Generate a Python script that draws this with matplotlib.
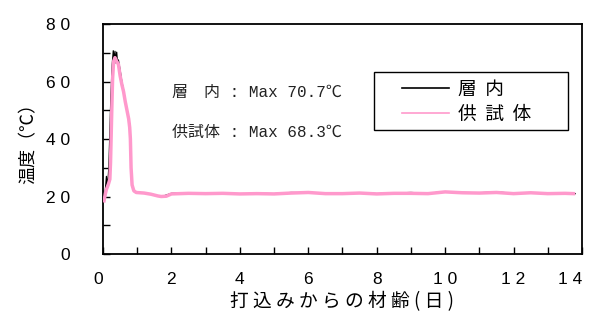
import matplotlib
matplotlib.use("Agg")
import matplotlib.pyplot as plt
from matplotlib.ticker import MultipleLocator
from matplotlib.patches import Rectangle

plt.rcParams['font.family'] = ['Noto Sans CJK JP', 'DejaVu Sans']

# 層内 (black, thin)
t_inner = [0.0, 0.05, 0.1, 0.13, 0.17, 0.2, 0.23, 0.27, 0.3, 0.33, 0.35, 0.37, 0.4, 0.42,
           0.45, 0.5, 0.55, 0.6, 0.65, 0.7, 0.75, 0.78, 0.8, 0.83, 0.87, 0.92, 1.0,
           1.2, 1.4, 1.6, 1.8, 2.0, 2.5, 3.0, 3.5, 4.0, 4.5, 5.0, 5.5, 6.0, 6.5,
           7.0, 7.5, 8.0, 8.5, 9.0, 9.5, 10.0, 10.5, 11.0, 11.5, 12.0, 12.5, 13.0, 13.5, 13.8]
T_inner = [18.5, 19.5, 27.0, 23.0, 30.0, 42.0, 55.0, 66.0, 70.7, 67.0, 70.5, 66.5, 70.2, 67.0,
           67.5, 64.0, 60.0, 57.0, 53.0, 50.0, 47.0, 45.0, 38.0, 28.0, 22.5, 21.6, 21.5,
           21.2, 20.8, 20.2, 20.3, 21.1, 21.3, 21.0, 21.2, 20.9, 21.1, 21.0, 21.4, 21.3, 21.0,
           20.9, 21.3, 21.0, 21.2, 21.4, 21.1, 21.7, 21.4, 21.3, 21.6, 21.1, 21.3, 21.0, 21.2, 21.0]

# 供試体 (pink, thick)
t_spec = [0.03, 0.07, 0.1, 0.15, 0.2, 0.22, 0.24, 0.26, 0.28, 0.31, 0.35, 0.4, 0.45,
          0.5, 0.55, 0.6, 0.65, 0.7, 0.75, 0.78, 0.8, 0.82, 0.85, 0.9, 0.97,
          1.2, 1.4, 1.6, 1.7, 1.85, 2.0, 2.5, 3.0, 3.5, 4.0, 4.5, 5.0, 5.5, 6.0, 6.5,
          7.0, 7.5, 8.0, 8.5, 9.0, 9.5, 10.0, 10.5, 11.0, 11.5, 12.0, 12.5, 13.0, 13.5, 13.75]
T_spec = [18.5, 21.0, 22.5, 24.0, 26.0, 32.0, 42.0, 52.0, 61.0, 67.0, 68.3, 67.0, 66.0,
          62.0, 59.0, 56.5, 53.0, 50.0, 47.0, 44.0, 40.0, 30.0, 24.0, 22.0, 21.4,
          21.2, 20.8, 20.2, 20.0, 20.1, 20.9, 21.1, 21.0, 21.1, 20.9, 21.0, 20.9, 21.2, 21.4, 21.0,
          21.0, 21.2, 20.9, 21.1, 21.1, 21.0, 21.6, 21.3, 21.2, 21.4, 21.0, 21.3, 21.0, 21.1, 21.0]

x_ticks = [0, 2, 4, 6, 8, 10, 12, 14]
y_ticks = [0, 20, 40, 60, 80]

fig = plt.figure(figsize=(5.9, 3.23), dpi=100)
ax = fig.add_axes([0.1746, 0.2136, 0.8118, 0.7121])

ax.plot(t_inner, T_inner, color='black', lw=0.9, label='層  内', zorder=2)
ax.plot(t_spec, T_spec, color='#ff99cc', lw=2.5, label='供  試  体', zorder=3)

ax.set_xlim(0, 14)
ax.set_ylim(0, 80)
ax.set_xticks(x_ticks)
ax.set_xticklabels([' '.join(str(v)) for v in x_ticks])
ax.set_yticks(y_ticks)
ax.set_yticklabels([' '.join(str(v)) for v in y_ticks])
ax.xaxis.set_minor_locator(MultipleLocator(1))
ax.yaxis.set_minor_locator(MultipleLocator(10))
ax.tick_params(axis='both', which='both', direction='in', length=5, width=1)
ax.tick_params(axis='x', pad=13)
ax.tick_params(axis='y', pad=24)
for lab in ax.get_xticklabels() + ax.get_yticklabels():
    lab.set_family(['Liberation Sans', 'DejaVu Sans'])
    lab.set_fontsize(12.5)
ax.get_xticklabels()[-1].set_horizontalalignment('right')
ax.get_xticklabels()[0].set_horizontalalignment('right')
for s in ax.spines.values():
    s.set_linewidth(1.3)

ax.set_xlabel('打 込 み か ら の 材 齢 ( 日 )', fontsize=13.5, labelpad=3)
ax.set_ylabel('温度（℃）', fontsize=13, labelpad=6)

ann_font = ['Liberation Mono', 'Noto Sans CJK JP', 'DejaVu Sans']
fig.text(172 / 590, 1 - 93 / 323, '層　内 : Max 70.7℃', fontsize=11.5, family=ann_font,
         va='center', color='#222222')
fig.text(172 / 590, 1 - 132 / 323, '供試体 : Max 68.3℃', fontsize=11.5, family=ann_font,
         va='center', color='#222222')

# legend box
ax.add_patch(Rectangle((374 / 590, 1 - 130 / 323), 194 / 590, 58 / 323,
                       transform=fig.transFigure, facecolor='white',
                       edgecolor='black', lw=1.0, zorder=4, clip_on=False))
leg = ax.legend(loc='upper left', bbox_to_anchor=(400 / 590, 1 - 77 / 323),
                bbox_transform=fig.transFigure, fontsize=13.5, frameon=False,
                handlelength=2.5, borderpad=0.1, labelspacing=0.2, borderaxespad=0,
                handletextpad=0.5)
leg.set_zorder(5)
for h in leg.get_lines():
    h.set_linewidth(1.2)

fig.savefig('out.png', dpi=100)
